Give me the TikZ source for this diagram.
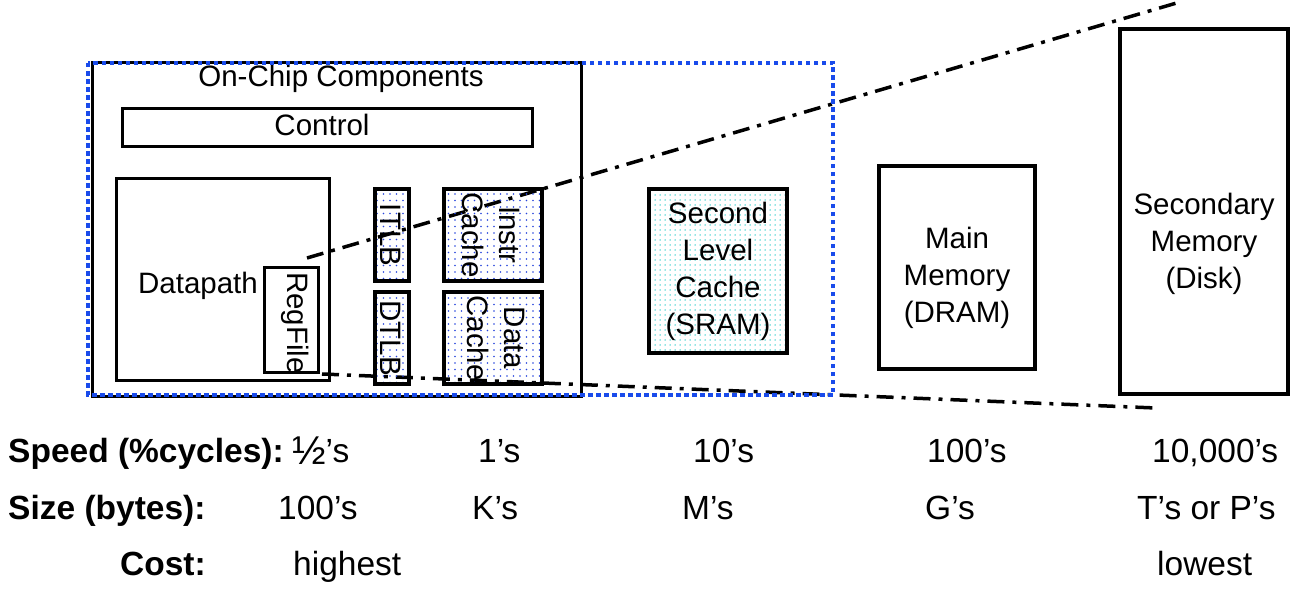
\documentclass[tikz,border=0pt]{standalone}
\usepackage{fontspec}
\setmainfont{Liberation Sans}
\usetikzlibrary{patterns,fit}
\pgfdeclarepatternformonly{bluedots}{\pgfqpoint{-1pt}{-1pt}}{\pgfqpoint{1pt}{1pt}}{\pgfqpoint{6.5pt}{6.5pt}}{\pgfpathcircle{\pgfpointorigin}{0.8pt}\pgfusepath{fill}}
\pgfdeclarepatternformonly{cyandots}{\pgfqpoint{-1pt}{-1pt}}{\pgfqpoint{1pt}{1pt}}{\pgfqpoint{5pt}{5pt}}{\pgfpathcircle{\pgfpointorigin}{0.75pt}\pgfusepath{fill}}
\definecolor{dotblue}{RGB}{40,70,220}
\definecolor{dotcyan}{RGB}{40,200,200}
\definecolor{frameblue}{RGB}{25,75,235}
\newcommand{\boxfont}{\fontsize{29.5}{37}\selectfont}
\newcommand{\rowfont}{\fontsize{33.5}{40}\selectfont}
\tikzset{
  box/.style={draw=black, line width=3pt, inner sep=0pt, outer sep=0pt},
  tlbbox/.style={box, line width=3.5pt, fill=white, pattern=bluedots, pattern color=dotblue},
  lbl/.style={inner sep=0pt, font=\boxfont, align=center},
  rowlbl/.style={inner sep=0pt, font=\rowfont, anchor=base west},
  rowhead/.style={rowlbl, font=\rowfont\bfseries},
  dashdot/.style={line width=3.5pt, dash pattern=on 17pt off 8pt on 4pt off 8pt},
  bluedotted/.style={line width=4.5pt, draw=frameblue, dash pattern=on 4.5pt off 3.5pt}
}
\begin{document}
\begin{tikzpicture}[x=1pt,y=-1pt]
\useasboundingbox (0,0) rectangle (1303,610);
% main outline boxes
\node[box, fit={(92,63) (581,396)}] (onchip) {};
\node[lbl] (onchiptext) at (341,79) {On-Chip Components};
\node[box, fit={(122,108) (532,146)}] (control) {};
\node[lbl] (controltext) at (322,125) {Control};
\node[box, fit={(116,178) (329,380)}] (dp) {};
\node[lbl] (dptext) at (198,286) {Datapath};
% dash-dot lines
\coordinate (ustart) at (307,258);
\coordinate (uend) at (1180,2);
\coordinate (lstart) at (322,374);
\coordinate (lend) at (1156,408);
\draw[dashdot] (ustart) -- (uend);
\draw[dashdot] (lstart) -- (lend);
% register file
\node[box, fit={(264,267) (318,372)}] (rf) {};
\node[lbl, rotate=-90] (rftext) at (295,323) {RegFile};
% TLBs and caches
\node[tlbbox, fit={(375,189) (409,281)}] (itlb) {};
\node[lbl, rotate=-90] (itlbtext) at (391,235) {ITLB};
\node[tlbbox, fit={(375,292) (409,384)}] (dtlb) {};
\node[lbl, rotate=-90] (dtlbtext) at (391,338) {DTLB};
\node[tlbbox, fit={(444,189) (542,281)}] (icache) {};
\node[lbl, rotate=-90] (icachetext) at (491,235) {Instr\\Cache};
\node[tlbbox, fit={(444,292) (542,384)}] (dcache) {};
\node[lbl, rotate=-90] (dcachetext) at (496,338) {Data\\Cache};
% blue dotted frame
\draw[bluedotted] (88,63) rectangle (833,395);
% second level cache
\node[box, line width=4.5pt, fill=white, pattern=cyandots, pattern color=dotcyan, fit={(649,189) (787,353)}] (l2) {};
\node[lbl] (l2text) at (718,271) {Second\\Level\\Cache\\(SRAM)};
% main memory
\node[box, line width=4pt, fill=white, fit={(879,166) (1035,369)}] (mm) {};
\node[lbl] (mmtext) at (957,278) {Main\\Memory\\(DRAM)};
% secondary memory
\node[box, line width=3.5pt, fill=white, fit={(1120,29) (1288,394)}] (disk) {};
\node[lbl] (disktext) at (1204,244) {Secondary\\Memory\\(Disk)};
% bottom rows
\node[rowhead] (speedh) at (8,462) {Speed (\%cycles):};
\node[rowlbl] (s1) at (292,462) {\raisebox{-2.5pt}{\scalebox{1.2}{½}}’s};
\node[rowlbl] (s2) at (478,462) {1’s};
\node[rowlbl] (s3) at (693,462) {10’s};
\node[rowlbl] (s4) at (927,462) {100’s};
\node[rowlbl] (s5) at (1152,462) {10,000’s};
\node[rowhead] (sizeh) at (8,519) {Size (bytes):};
\node[rowlbl] (z1) at (278,519) {100’s};
\node[rowlbl] (z2) at (472,519) {K’s};
\node[rowlbl] (z3) at (682,519) {M’s};
\node[rowlbl] (z4) at (925,519) {G’s};
\node[rowlbl] (z5) at (1137,519) {T’s or P’s};
\node[rowhead] (costh) at (120,575) {Cost:};
\node[rowlbl] (c1) at (293,575) {highest};
\node[rowlbl] (c2) at (1157,575) {lowest};
\end{tikzpicture}
\end{document}
